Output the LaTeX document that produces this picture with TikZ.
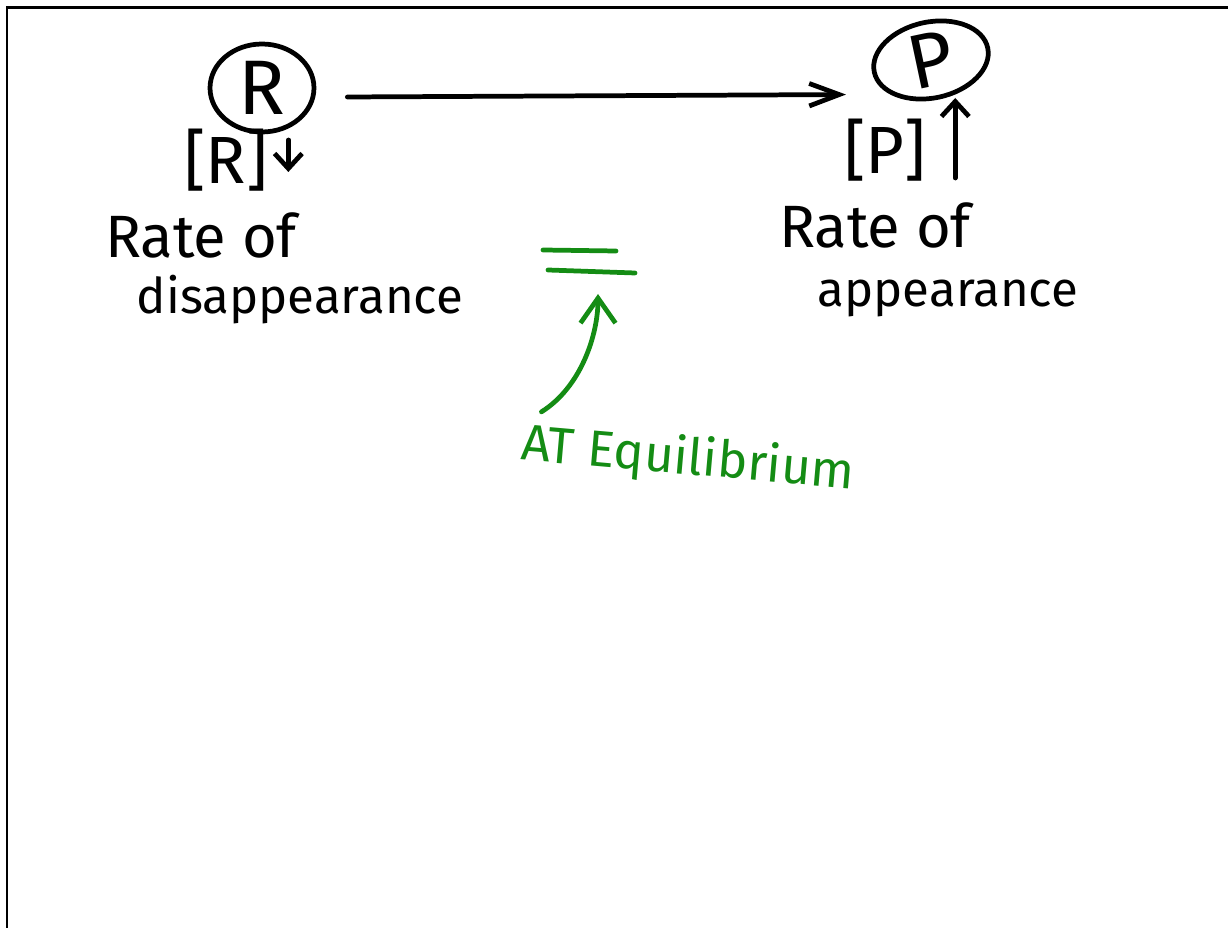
\documentclass[tikz,border=0pt]{standalone}
\usepackage{fontspec}
\setmainfont{Fira Sans}
\usetikzlibrary{arrows.meta,shapes.geometric,calc}

\def\speciesFont{\fontsize{44}{48}\selectfont}
\def\concFont{\fontsize{38}{42}\selectfont}
\def\noteFont{\fontsize{29}{32}\selectfont}
\colorlet{pen ink}{black}
\definecolor{pen green}{RGB}{20,140,20}
\tikzset{
  species/.style={ellipse, draw=pen ink, line width=2.7pt, inner sep=0pt, font=\speciesFont},
  handtext/.style={inner sep=0pt, text=pen ink},
  greentext/.style={inner sep=0pt, text=pen green, font=\noteFont}
  }
\tikzstyle{frame} = [draw=pen ink, line width=1.7pt]
\tikzstyle{reaction} = [draw=pen ink, line width=2.7pt, line cap=round, -{Straight Barb[length=0.6cm,width=0.45cm]}]
\tikzstyle{trend} = [draw=pen ink, line width=2.7pt, line cap=round, -{Straight Barb[length=0.3cm,width=0.55cm]}]
\tikzstyle{eqline} = [draw=pen green, line width=2.7pt, line cap=round]
\tikzstyle{pointer} = [eqline, -{Straight Barb[length=0.5cm,width=0.7cm]}]

\begin{document}
\begin{tikzpicture}[x=0.02cm, y=-0.02cm]
  \useasboundingbox (0,0) rectangle (1228,928);
  \draw[frame] (7,928) -- (7,8) -- (1228,8);

  \node[species, minimum width=2.08cm, minimum height=1.76cm] (R) at (262,88) {R};
  \node[species, minimum width=2.32cm, minimum height=1.52cm, rotate=12] (P) at (931,60) {P};

  \node[handtext, font=\concFont] (Rconc) at (226,160) {[R]};
  \node[handtext, font=\concFont] (Pconc) at (885,150) {[P]};

  \foreach \pos/\name/\size/\txt in {{(201,235)/rateR/34/Rate of}, {(300,300)/disapp/28/disappearance}, {(875,225)/rateP/34/Rate of}, {(948,298)/app/28/appearance}} {
    \node[handtext, font=\fontsize{\size}{\size}\selectfont] (\name) at \pos {\txt};
  }

  \node[greentext, rotate=-5] (eqlabel) at (688,460) {AT Equilibrium};

  \draw[eqline] (543,250) -- (616,251);
  \draw[eqline] (548,270) -- (635,273);
  \coordinate (eqbot) at (598,294);

  \draw[reaction] ($(R.east)+(31,9)$) -- ($(P.west)+(-26,22)$);
  \draw[trend] ($(Rconc.east)+(20,-20)$) -- ++(0,32);
  \draw[trend] ($(Pconc.east)+(29,28)$) -- ++(0,-80);
  \draw[pointer] ($(eqlabel.north west)+(18,-8)$) .. controls +(40,-25) and +(0,40) .. (eqbot);
\end{tikzpicture}
\end{document}
